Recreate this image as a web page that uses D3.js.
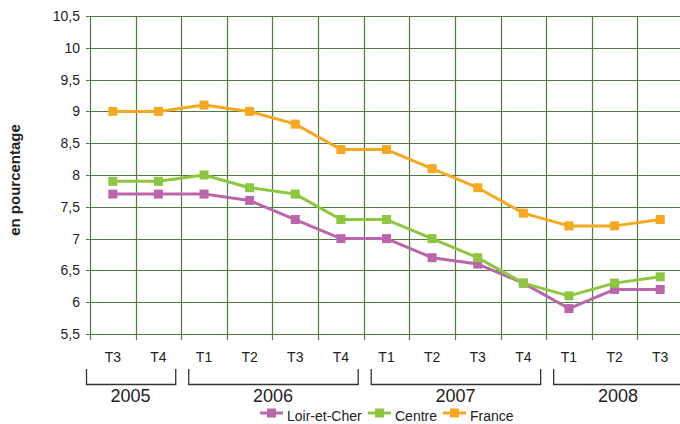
<!DOCTYPE html>
<html><head><meta charset="utf-8">
<script src="https://cdn.jsdelivr.net/npm/d3@7"></script>
<style>body{margin:0;background:#fff}svg{display:block;font-family:"Liberation Sans",Arial,sans-serif}</style>
</head><body><svg id="c" width="680" height="424"></svg>
<script>
const quarters = ["T3","T4","T1","T2","T3","T4","T1","T2","T3","T4","T1","T2","T3"];
const years = [
  {label:"2005", from:0, to:2},
  {label:"2006", from:2, to:6},
  {label:"2007", from:6, to:10},
  {label:"2008", from:10, to:13}
];
const loirEtCher = [7.7,7.7,7.7,7.6,7.3,7.0,7.0,6.7,6.6,6.3,5.9,6.2,6.2];
const centre     = [7.9,7.9,8.0,7.8,7.7,7.3,7.3,7.0,6.7,6.3,6.1,6.3,6.4];
const france     = [9.0,9.0,9.1,9.0,8.8,8.4,8.4,8.1,7.8,7.4,7.2,7.2,7.3];
const yTicks = [5.5,6,6.5,7,7.5,8,8.5,9,9.5,10,10.5];
const seriesNames = ["Loir-et-Cher","Centre","France"];
const seriesColors = ["#bb66aa","#8dc63f","#f6a821"];
const seriesData = [loirEtCher, centre, france];

const svg = d3.select("#c");
const L = 90, R = 683, T = 16, B = 334;
const idx = d3.range(quarters.length);
const x = d3.scaleBand().domain(idx).range([L, R]).paddingInner(0).paddingOuter(0);
const y = d3.scaleLinear().domain([5.5, 10.5]).range([B, T]);
const grid = "#4f7c42";
const fmt = v => String(v).replace(".", ",");

// grid horizontal
svg.append("g").selectAll("line").data(yTicks).join("line")
  .attr("x1", L - 4).attr("x2", R).attr("y1", d => Math.round(y(d)) + 0.5).attr("y2", d => Math.round(y(d)) + 0.5)
  .attr("stroke", grid).attr("stroke-width", 1.2);
// grid vertical (band boundaries)
const bounds = idx.map(i => x(i)).concat([R]);
svg.append("g").selectAll("line").data(bounds).join("line")
  .attr("x1", d => Math.round(d) + 0.5).attr("x2", d => Math.round(d) + 0.5)
  .attr("y1", T).attr("y2", B + 6)
  .attr("stroke", grid).attr("stroke-width", 1.2);

// y labels
svg.append("g").selectAll("text").data(yTicks).join("text")
  .attr("x", 80).attr("y", d => y(d)).attr("dy", "0.35em")
  .attr("text-anchor", "end").attr("font-size", 14).attr("fill", "#222")
  .text(fmt);

// y title
svg.append("text").attr("transform", "translate(20,180) rotate(-90)")
  .attr("text-anchor", "middle").attr("font-size", 15).attr("font-weight", "bold").attr("fill", "#222")
  .text("en pourcentage");

// x labels
svg.append("g").selectAll("text").data(idx).join("text")
  .attr("x", i => x(i) + x.bandwidth() / 2).attr("y", 362)
  .attr("text-anchor", "middle").attr("font-size", 14).attr("fill", "#222")
  .text(i => quarters[i]);

// year brackets
const yb = svg.append("g");
years.forEach(g => {
  const x0 = x(g.from) + (g.from === 0 ? -4 : 7);
  const x1 = g.to >= quarters.length ? R : x(g.to) - 6;
  yb.append("path")
    .attr("d", `M${x0 + 0.5},369 V384.5 H${x1 + 0.5} V369`)
    .attr("fill", "none").attr("stroke", "#333").attr("stroke-width", 1.3);
  yb.append("text").attr("x", (x0 + x1) / 2).attr("y", 402)
    .attr("text-anchor", "middle").attr("font-size", 18).attr("fill", "#222").text(g.label);
});

// series
const line = d3.line().x((d, i) => x(i) + x.bandwidth() / 2).y(d => y(d));
seriesData.forEach((vals, k) => {
  const g = svg.append("g");
  g.append("path").datum(vals).attr("d", line).attr("fill", "none")
    .attr("stroke", seriesColors[k]).attr("stroke-width", 3).attr("stroke-linejoin", "round");
  g.selectAll("rect").data(vals).join("rect")
    .attr("x", (d, i) => x(i) + x.bandwidth() / 2 - 4.5).attr("y", d => y(d) - 4.5)
    .attr("width", 9).attr("height", 9).attr("fill", seriesColors[k]);
});

// legend
const legX = [260, 368, 443];
const lg = svg.append("g");
seriesNames.forEach((n, k) => {
  const lx = legX[k];
  lg.append("line").attr("x1", lx).attr("x2", lx + 23).attr("y1", 413).attr("y2", 413)
    .attr("stroke", seriesColors[k]).attr("stroke-width", 3);
  lg.append("rect").attr("x", lx + 7).attr("y", 408.5).attr("width", 9).attr("height", 9).attr("fill", seriesColors[k]);
  lg.append("text").attr("x", lx + 27).attr("y", 421).attr("font-size", 14).attr("fill", "#222").text(n);
});
</script></body></html>
